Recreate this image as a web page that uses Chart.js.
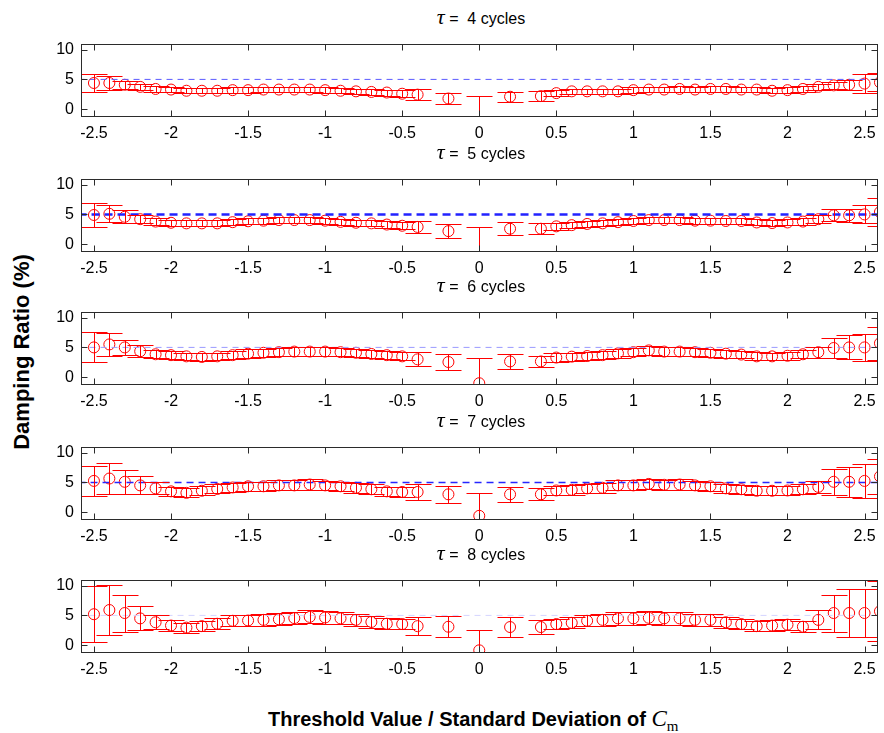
<!DOCTYPE html>
<html>
<head>
<meta charset="utf-8">
<script src="https://cdn.jsdelivr.net/npm/chart.js@4.4.1/dist/chart.umd.min.js"></script>
<style>
  body { margin: 0; background: #fff; }
  #page { position: relative; width: 884px; height: 733px; overflow: hidden; font-family: "Liberation Sans", Arial, sans-serif; }
  .panel { position: absolute; left: 0; width: 884px; }
  .ttl { position: absolute; left: 81px; width: 800px; text-align: center; font-size: 16px; color: #000; line-height: 20px; white-space: pre; }
  .tau { font-family: "Liberation Serif", "Times New Roman", serif; font-style: italic; font-size: 22px; }
  #ylab { position: absolute; left: 22px; top: 352px; transform: translate(-50%, -50%) rotate(-90deg); font-weight: bold; font-size: 22px; white-space: nowrap; }
  #xlab { position: absolute; left: 268px; top: 706px; font-weight: bold; font-size: 20px; white-space: nowrap; }
  #xlab i { font-family: "Liberation Serif", "Times New Roman", serif; font-weight: normal; font-size: 23px; }
  #xlab sub { font-family: "Liberation Serif", "Times New Roman", serif; font-size: 15px; font-weight: normal; }
</style>
</head>
<body>
<div id="page">
  <div id="ylab">Damping Ratio (%)</div>
  <div id="xlab">Threshold Value / Standard Deviation of <i>C</i><sub>m</sub></div>
</div>
<script>
// threshold positions (shared by every panel)
const xVals = [-2.5, -2.4, -2.3, -2.2, -2.1, -2.0, -1.9, -1.8, -1.7, -1.6, -1.5, -1.4, -1.3, -1.2, -1.1, -1.0, -0.9, -0.8, -0.7, -0.6, -0.5, -0.4,
    -0.2, 0, 0.2, 0.4,
    0.5, 0.6, 0.7, 0.8, 0.9, 1.0, 1.1, 1.2, 1.3, 1.4, 1.5, 1.6, 1.7, 1.8, 1.9, 2.0, 2.1, 2.2, 2.3, 2.4, 2.5, 2.6];

const xTicks = [-2.5, -2, -1.5, -1, -0.5, 0, 0.5, 1, 1.5, 2, 2.5];
const yTicks = [0, 5, 10];
const tauLabels = [4, 5, 6, 7, 8];
const refValue = 5;

// mean damping ratio (%) and half-width of error bar
const tau4Mean = [4.4, 4.4, 4.1, 3.75, 3.4, 3.3, 3.1, 3.1, 3.1, 3.2, 3.2, 3.3, 3.3, 3.3, 3.3, 3.2, 3.1, 3.0, 2.9, 2.8, 2.6, 2.45,
    1.8, -3.0, 2.1, 2.2,
    2.7, 3.0, 3.0, 3.0, 3.0, 3.2, 3.3, 3.3, 3.4, 3.3, 3.4, 3.4, 3.3, 3.3, 3.1, 3.2, 3.4, 3.75, 4.0, 4.1, 4.3, 4.5];
const tau4Err = [1.5, 1.1, 0.7, 0.55, 0.45, 0.45, 0.45, 0.45, 0.45, 0.45, 0.45, 0.45, 0.45, 0.45, 0.45, 0.45, 0.45, 0.45, 0.45, 0.5, 0.6, 0.9,
    0.85, 5.3, 0.85, 0.8,
    0.55, 0.45, 0.45, 0.45, 0.45, 0.45, 0.45, 0.45, 0.45, 0.45, 0.45, 0.45, 0.45, 0.45, 0.45, 0.45, 0.5, 0.55, 0.6, 0.8, 1.6, 1.5];

const tau5Mean = [4.9, 5.1, 4.6, 4.2, 3.8, 3.6, 3.5, 3.5, 3.5, 3.7, 3.85, 3.95, 4.05, 4.05, 4.05, 3.95, 3.75, 3.6, 3.5, 3.3, 3.1, 2.9,
    2.2, -3.0, 2.6, 2.6,
    3.0, 3.2, 3.4, 3.5, 3.7, 3.9, 4.05, 4.05, 4.05, 3.95, 3.95, 3.9, 3.9, 3.65, 3.55, 3.65, 3.8, 4.2, 4.85, 4.85, 5.0, 5.4];
const tau5Err = [2.0, 1.4, 1.1, 0.7, 0.55, 0.5, 0.5, 0.5, 0.5, 0.5, 0.5, 0.5, 0.55, 0.55, 0.55, 0.5, 0.5, 0.5, 0.5, 0.55, 0.6, 1.0,
    1.2, 5.9, 1.1, 0.9,
    0.6, 0.55, 0.5, 0.5, 0.5, 0.5, 0.55, 0.55, 0.55, 0.5, 0.5, 0.5, 0.5, 0.5, 0.5, 0.5, 0.55, 0.7, 1.0, 1.1, 1.5, 2.3];

const tau6Mean = [5.0, 5.5, 5.0, 4.35, 3.85, 3.7, 3.5, 3.4, 3.5, 3.7, 3.95, 4.1, 4.2, 4.3, 4.3, 4.3, 4.2, 4.1, 3.9, 3.7, 3.5, 3.0,
    2.55, -1.0, 2.65, 2.65,
    3.3, 3.45, 3.55, 3.7, 4.0, 4.2, 4.5, 4.3, 4.3, 4.2, 4.1, 3.95, 3.8, 3.5, 3.5, 3.6, 3.85, 4.2, 4.9, 5.0, 5.0, 5.7];
const tau6Err = [2.5, 1.9, 1.3, 1.0, 0.7, 0.65, 0.6, 0.6, 0.6, 0.65, 0.7, 0.7, 0.7, 0.75, 0.75, 0.7, 0.7, 0.7, 0.65, 0.65, 0.65, 1.15,
    1.3, 4.2, 1.3, 0.9,
    0.7, 0.65, 0.65, 0.65, 0.7, 0.7, 0.75, 0.7, 0.7, 0.7, 0.7, 0.65, 0.65, 0.65, 0.6, 0.65, 0.7, 0.9, 1.7, 2.0, 2.3, 2.8];

const tau7Mean = [5.25, 5.65, 5.1, 4.5, 4.0, 3.5, 3.25, 3.6, 3.9, 4.15, 4.35, 4.35, 4.5, 4.5, 4.65, 4.5, 4.35, 4.1, 3.85, 3.5, 3.4, 3.4,
    3.0, -0.6, 3.0, 3.0,
    3.65, 3.75, 4.0, 4.1, 4.5, 4.5, 4.75, 4.6, 4.65, 4.5, 4.35, 4.0, 3.85, 3.6, 3.6, 3.65, 3.85, 4.25, 5.1, 5.1, 5.25, 6.0];
const tau7Err = [2.5, 2.6, 2.0, 1.5, 1.0, 0.8, 0.75, 0.75, 0.75, 0.8, 0.8, 0.8, 0.85, 0.85, 0.85, 0.8, 0.8, 0.8, 0.8, 0.8, 0.8, 1.3,
    1.4, 3.85, 1.2, 1.0,
    0.8, 0.8, 0.8, 0.8, 0.85, 0.85, 0.9, 0.85, 0.85, 0.8, 0.8, 0.8, 0.75, 0.75, 0.75, 0.75, 0.8, 1.0, 2.2, 2.5, 2.8, 3.0];

const tau8Mean = [5.2, 5.9, 5.4, 4.5, 3.85, 3.3, 2.95, 3.2, 3.6, 4.1, 4.15, 4.25, 4.35, 4.55, 4.75, 4.65, 4.5, 4.25, 3.9, 3.6, 3.55, 3.2,
    3.1, -0.85, 3.05, 3.05,
    3.55, 3.75, 4.1, 4.25, 4.5, 4.5, 4.6, 4.5, 4.5, 4.25, 4.25, 3.85, 3.55, 3.2, 3.3, 3.45, 3.1, 4.25, 5.4, 5.4, 5.4, 5.7];
const tau8Err = [4.7, 4.2, 3.1, 2.0, 1.2, 0.9, 0.85, 0.85, 0.9, 0.95, 1.0, 1.0, 1.0, 1.05, 1.1, 1.05, 1.0, 1.0, 0.95, 0.9, 0.9, 1.45,
    1.8, 3.45, 1.75, 1.1,
    0.9, 0.9, 0.95, 1.0, 1.05, 1.05, 1.1, 1.05, 1.05, 1.0, 1.0, 0.95, 0.9, 0.85, 0.85, 0.9, 0.9, 1.6, 3.1, 4.0, 4.0, 5.0];

const means = [tau4Mean, tau5Mean, tau6Mean, tau7Mean, tau8Mean];
const errs = [tau4Err, tau5Err, tau6Err, tau7Err, tau8Err];

// layout / look
const plotTops = [37, 172, 305, 440, 573];
const padTop = 10;
const plotH = 80;
const xAxisH = 24;
const refStyles = [
    { color: '#5a5aff', width: 1, dash: [6, 5] },
    { color: '#2222ff', width: 2.5, dash: [8, 5] },
    { color: '#9a9aff', width: 1, dash: [6, 5] },
    { color: '#2626ff', width: 1.5, dash: [7, 5] },
    { color: '#d4d4ff', width: 1, dash: [6, 5] }
];
const fontFamily = '"Liberation Sans", Arial, sans-serif';

// which panel each canvas belongs to
const panelOf = new Map();

const errorBarPlugin = {
    id: 'errorBars',
    afterDatasetsDraw(chart) {
        const k = panelOf.get(chart.canvas);
        if (k === undefined) return;
        const m = means[k], e = errs[k];
        const { ctx, chartArea, scales } = chart;
        ctx.save();
        ctx.beginPath();
        ctx.rect(chartArea.left, chartArea.top, chartArea.right - chartArea.left, chartArea.bottom - chartArea.top);
        ctx.clip();
        ctx.strokeStyle = '#ff0000';
        ctx.lineWidth = 1;
        xVals.forEach((xv, i) => {
            const x = Math.round(scales.x.getPixelForValue(xv)) + 0.5;
            const yt = Math.round(scales.y.getPixelForValue(m[i] + e[i])) + 0.5;
            const yb = Math.round(scales.y.getPixelForValue(m[i] - e[i])) + 0.5;
            ctx.beginPath();
            ctx.moveTo(x, yt);
            ctx.lineTo(x, yb);
            // caps
            ctx.moveTo(x - 13, yt);
            ctx.lineTo(x + 13, yt);
            ctx.moveTo(x - 13, yb);
            ctx.lineTo(x + 13, yb);
            ctx.stroke();
        });
        ctx.restore();
    }
};

const framePlugin = {
    id: 'frame',
    afterDraw(chart) {
        const { ctx, chartArea: a, scales } = chart;
        ctx.save();
        ctx.strokeStyle = '#2b2b2b';
        ctx.lineWidth = 1;
        const l = Math.round(a.left) + 0.5, r = Math.round(a.right) - 0.5;
        const t = Math.round(a.top) + 0.5, b = Math.round(a.bottom) - 0.5;
        ctx.strokeRect(l, t, r - l, b - t);
        ctx.beginPath();
        xTicks.forEach(v => {
            const x = Math.round(scales.x.getPixelForValue(v)) + 0.5;
            ctx.moveTo(x, b); ctx.lineTo(x, b - 6);
            ctx.moveTo(x, t); ctx.lineTo(x, t + 6);
        });
        yTicks.forEach(v => {
            const y = Math.round(scales.y.getPixelForValue(v)) + 0.5;
            ctx.moveTo(l, y); ctx.lineTo(l + 6, y);
            ctx.moveTo(r, y); ctx.lineTo(r - 6, y);
        });
        ctx.stroke();
        ctx.restore();
    }
};

const page = document.getElementById('page');

tauLabels.forEach((tau, k) => {
    const top = plotTops[k];

    const title = document.createElement('div');
    title.className = 'ttl';
    title.style.top = (top - 30) + 'px';
    title.innerHTML = '<span class="tau">\u03c4</span> =  ' + tau + ' cycles';
    page.appendChild(title);

    const box = document.createElement('div');
    box.className = 'panel';
    box.style.top = (top - padTop) + 'px';
    box.style.height = (padTop + plotH + xAxisH) + 'px';
    const canvas = document.createElement('canvas');
    box.appendChild(canvas);
    page.appendChild(box);
    panelOf.set(canvas, k);

    const st = refStyles[k];
    new Chart(canvas, {
        type: 'scatter',
        data: {
            datasets: [{
                type: 'line',
                data: [{ x: -2.6, y: refValue }, { x: 2.6, y: refValue }],
                borderColor: st.color,
                borderWidth: st.width,
                borderDash: st.dash,
                pointRadius: 0,
                clip: 0
            }, {
                data: xVals.map((x, i) => ({ x: x, y: means[k][i] })),
                pointStyle: 'circle',
                pointRadius: 5.5,
                pointBorderWidth: 1,
                borderColor: '#ff0000',
                backgroundColor: 'rgba(0,0,0,0)',
                clip: 0
            }]
        },
        options: {
            responsive: true,
            maintainAspectRatio: false,
            animation: false,
            layout: { padding: { top: padTop, right: 3, bottom: 0, left: 0 } },
            plugins: { legend: { display: false }, tooltip: { enabled: false } },
            scales: {
                x: {
                    type: 'linear',
                    min: -2.584,
                    max: 2.584,
                    grid: { display: false, drawTicks: false },
                    border: { display: false },
                    afterBuildTicks: s => { s.ticks = xTicks.map(v => ({ value: v })); },
                    afterFit: s => { s.height = xAxisH; },
                    ticks: {
                        color: '#000',
                        padding: 7,
                        maxRotation: 0,
                        autoSkip: false,
                        font: { family: fontFamily, size: 16 },
                        callback: v => String(Math.round(v * 10) / 10)
                    }
                },
                y: {
                    min: -1.3,
                    max: 11,
                    grid: { display: false, drawTicks: false },
                    border: { display: false },
                    afterBuildTicks: s => { s.ticks = yTicks.map(v => ({ value: v })); },
                    afterFit: s => { s.width = 81; },
                    ticks: {
                        color: '#000',
                        padding: 7,
                        font: { family: fontFamily, size: 16 },
                        callback: v => String(v)
                    }
                }
            }
        },
        plugins: [errorBarPlugin, framePlugin]
    });
});
</script>
</body>
</html>
